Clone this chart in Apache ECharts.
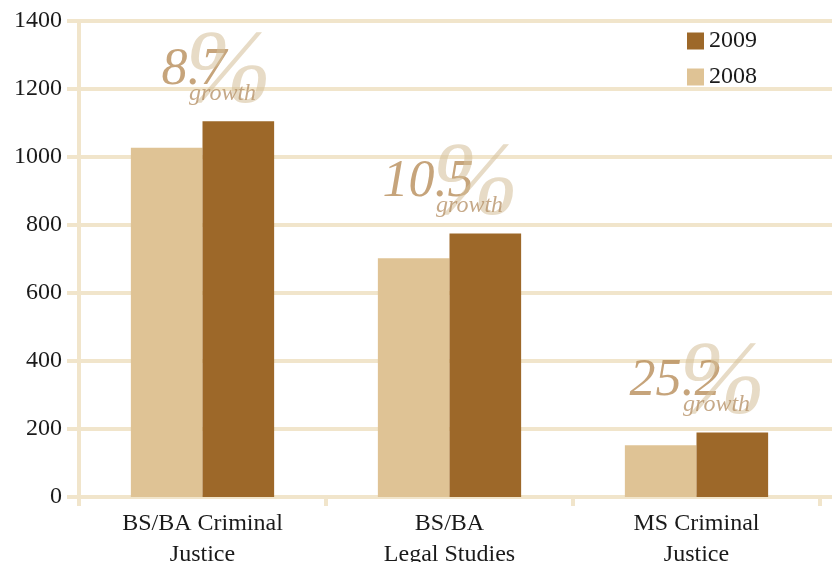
<!DOCTYPE html>
<html>
<head>
<meta charset="utf-8">
<script src="https://cdn.jsdelivr.net/npm/echarts@6/dist/echarts.min.js"></script>
<style>html,body{margin:0;padding:0;background:#fff}#c{width:832px;height:562px}</style>
</head>
<body>
<div id="c"></div>
<script>
var categories = ['BS/BA Criminal\nJustice', 'BS/BA\nLegal Studies', 'MS Criminal\nJustice'];
var values2008 = [1027, 702, 152];
var values2009 = [1105, 775, 190];
var growthLabels = ['8.7', '10.5', '25.2'];
var yTicks = { min: 0, max: 1400, interval: 200 };

var SERIF = '"Liberation Serif", "DejaVu Serif", serif';
var LINE = '#f1e5cb';
var TEXT = '#1a1a1a';

var chart = echarts.init(document.getElementById('c'));

function annot(name, fmt, style, z) {
  return {
    name: name,
    type: 'scatter',
    xAxisIndex: 0, yAxisIndex: 0,
    data: values2009,
    symbol: 'circle',
    symbolSize: 1,
    itemStyle: { color: 'rgba(0,0,0,0)' },
    silent: true,
    z: z,
    label: Object.assign({
      show: true,
      position: 'inside',
      fontFamily: SERIF,
      fontStyle: 'italic',
      formatter: fmt
    }, style)
  };
}

chart.setOption({
  animation: false,
  backgroundColor: '#fff',
  grid: [
    { left: 79, right: 12, top: 21, bottom: 65, containLabel: false, outerBoundsMode: 'none' },
    { left: 79, right: 0, top: 21, bottom: 65, containLabel: false, outerBoundsMode: 'none' }
  ],
  legend: {
    data: ['2009', '2008'],
    orient: 'vertical',
    left: 682,
    top: 24,
    itemWidth: 17,
    itemHeight: 17,
    itemGap: 12,
    icon: 'rect',
    textStyle: { fontFamily: SERIF, fontSize: 24, color: TEXT }
  },
  xAxis: [
    {
      type: 'category',
      gridIndex: 0,
      data: categories,
      axisLine: { lineStyle: { color: LINE, width: 4 } },
      axisTick: { show: true, length: 9, lineStyle: { color: LINE, width: 4 } },
      axisLabel: {
        fontFamily: SERIF, fontSize: 24, color: TEXT,
        lineHeight: 31, margin: 11, interval: 0
      },
      splitLine: { show: false }
    },
    { type: 'value', gridIndex: 1, show: false, min: 0, max: 1 }
  ],
  yAxis: [
    {
      type: 'value',
      gridIndex: 0,
      min: yTicks.min, max: yTicks.max, interval: yTicks.interval,
      axisLine: { show: true, lineStyle: { color: LINE, width: 4 } },
      axisTick: { show: true, length: 12, lineStyle: { color: LINE, width: 4 } },
      axisLabel: {
        fontFamily: SERIF, fontSize: 24, color: TEXT, margin: 17,
        formatter: function (v) { return String(v); }
      },
      splitLine: { show: false }
    },
    {
      type: 'value',
      gridIndex: 1,
      min: yTicks.min, max: yTicks.max, interval: yTicks.interval,
      axisLine: { show: false },
      axisTick: { show: false },
      axisLabel: { show: false },
      splitLine: { show: true, lineStyle: { color: LINE, width: 4 } }
    }
  ],
  series: [
    {
      name: '2008', type: 'bar', data: values2008,
      xAxisIndex: 0, yAxisIndex: 0,
      barGap: '0%', barCategoryGap: '42%',
      itemStyle: { color: '#dfc395' }, z: 3
    },
    {
      name: '2009', type: 'bar', data: values2009,
      xAxisIndex: 0, yAxisIndex: 0,
      itemStyle: { color: '#9d6829' }, z: 3
    },
    annot('num', function (p) { return growthLabels[p.dataIndex]; },
      { fontSize: 52, color: '#b88d5a', align: 'right', verticalAlign: 'middle', offset: [24, -51] }, 10),
    annot('pct', function () { return '%'; },
      { fontSize: 104, color: 'rgba(212,190,154,0.7)', align: 'center', verticalAlign: 'middle', offset: [26, -47] }, 11),
    annot('growth', function () { return 'growth'; },
      { fontSize: 24, color: '#b8936a', align: 'center', verticalAlign: 'middle', offset: [20, -28] }, 12)
  ]
});
</script>
</body>
</html>
